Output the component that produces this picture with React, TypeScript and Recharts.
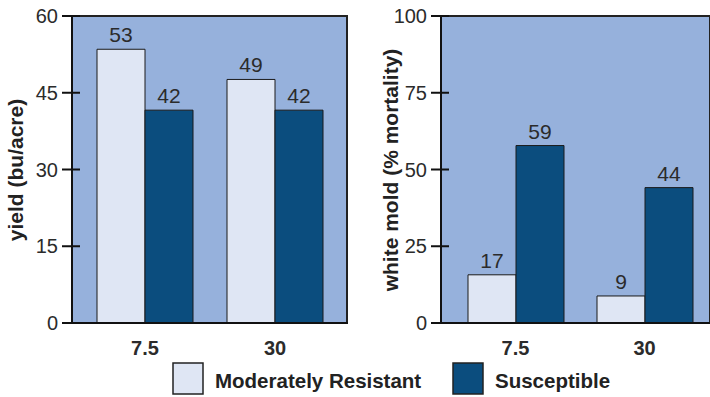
import { Bar, BarChart, CartesianGrid, LabelList, XAxis, YAxis } from "recharts";

const categories = ["7.5", "30"];

// left panel: yield
const yieldResistant = [53.5, 47.6];
const yieldSusceptible = [41.6, 41.6];
const yieldResistantLabels = [53, 49];
const yieldSusceptibleLabels = [42, 42];
const yieldTicks = [0, 15, 30, 45, 60];

// right panel: white mold
const moldResistant = [15.7, 8.8];
const moldSusceptible = [57.8, 44.1];
const moldResistantLabels = [17, 9];
const moldSusceptibleLabels = [59, 44];
const moldTicks = [0, 25, 50, 75, 100];

const FONT = "'Liberation Sans', Arial, sans-serif";
const BG = "#96b1dc";
const LIGHT = "#dfe6f4";
const DARK = "#0b4d7e";
const TEXT = "#2b2b2b";

function YTick(props: any) {
  const { x, y, payload } = props;
  return (
    <g>
      <line x1={x - 10} x2={x + 8} y1={y} y2={y} stroke="#111" strokeWidth={2} />
      <text x={x - 14} y={y} textAnchor="end" dominantBaseline="central" fontSize={20} fill={TEXT} fontFamily={FONT}>
        {payload.value}
      </text>
    </g>
  );
}

function XTick(props: any) {
  const { x, y, payload } = props;
  return (
    <text x={x} y={y + 25} textAnchor="middle" dominantBaseline="central" fontSize={20} fontWeight="bold" fill={TEXT} fontFamily={FONT}>
      {payload.value}
    </text>
  );
}

type PanelProps = {
  width: number;
  yWidth: number;
  title: string;
  titleX: number;
  ticks: number[];
  resistant: number[];
  susceptible: number[];
  resistantLabels: number[];
  susceptibleLabels: number[];
  padding: { left: number; right: number };
};

function Panel(p: PanelProps) {
  const data = categories.map((c, i) => ({
    cat: c,
    r: p.resistant[i],
    s: p.susceptible[i],
    rl: p.resistantLabels[i],
    sl: p.susceptibleLabels[i],
  }));
  const max = p.ticks[p.ticks.length - 1];
  return (
    <BarChart width={p.width} height={397} data={data} margin={{ top: 16, right: 0, left: 0, bottom: 37 }} barGap={0} barSize={48}>
      {/* background plus top / right frame lines */}
      <CartesianGrid
        fill={BG}
        stroke="#222"
        strokeWidth={2}
        horizontalCoordinatesGenerator={({ offset }: any) => [offset.top]}
        verticalCoordinatesGenerator={({ offset }: any) => [offset.left + offset.width - 1]}
      />
      <XAxis
        dataKey="cat"
        tick={<XTick />}
        tickLine={false}
        tickSize={0}
        tickMargin={0}
        height={37}
        padding={p.padding}
        axisLine={{ stroke: "#111", strokeWidth: 2 }}
      />
      <YAxis
        domain={[0, max]}
        ticks={p.ticks}
        tick={<YTick />}
        tickLine={false}
        tickSize={0}
        tickMargin={0}
        width={p.yWidth}
        axisLine={{ stroke: "#111", strokeWidth: 2 }}
        label={(lp: any) => {
          const vb = lp.viewBox || {};
          const cx = (vb.x ?? 0) + p.titleX;
          const cy = 170;
          return (
            <text
              x={cx}
              y={cy}
              transform={`rotate(-90 ${cx} ${cy})`}
              textAnchor="middle"
              dominantBaseline="central"
              fontSize={21}
              fontWeight="bold"
              fill="#222"
              fontFamily={FONT}
            >
              {p.title}
            </text>
          );
        }}
      />
      <Bar dataKey="r" fill={LIGHT} stroke="#1a1a1a" strokeWidth={1} isAnimationActive={false}>
        <LabelList dataKey="rl" position="top" offset={7} fill={TEXT} fontSize={21} fontFamily={FONT} />
      </Bar>
      <Bar dataKey="s" fill={DARK} stroke="#1a1a1a" strokeWidth={1} isAnimationActive={false}>
        <LabelList dataKey="sl" position="top" offset={7} fill={TEXT} fontSize={21} fontFamily={FONT} />
      </Bar>
    </BarChart>
  );
}

function Legend() {
  const item = (fill: string, label: string, boxX: number, textX: number) => (
    <g>
      <rect x={boxX} y={363} width={30} height={31} fill={fill} stroke="#222" strokeWidth={1.5} />
      <text x={textX} y={380} dominantBaseline="central" fontSize={20.5} fontWeight="bold" fill="#222" fontFamily={FONT}>
        {label}
      </text>
    </g>
  );
  return (
    <svg width={710} height={397} style={{ position: "absolute", left: 0, top: 0, pointerEvents: "none" }}>
      {item(LIGHT, "Moderately Resistant", 173, 215)}
      {item(DARK, "Susceptible", 453, 495)}
    </svg>
  );
}

export default function App() {
  return (
    <div style={{ position: "absolute", left: 0, top: 0, width: 710, height: 397, background: "#fff", fontFamily: FONT }}>
      <div style={{ position: "absolute", left: 0, top: 0 }}>
        <Panel
          width={348}
          yWidth={72}
          title="yield (bu/acre)"
          titleX={15}
          ticks={yieldTicks}
          resistant={yieldResistant}
          susceptible={yieldSusceptible}
          resistantLabels={yieldResistantLabels}
          susceptibleLabels={yieldSusceptibleLabels}
          padding={{ left: 8, right: 8 }}
        />
      </div>
      <div style={{ position: "absolute", left: 360, top: 0 }}>
        <Panel
          width={351}
          yWidth={81}
          title="white mold (% mortality)"
          titleX={30}
          ticks={moldTicks}
          resistant={moldResistant}
          susceptible={moldSusceptible}
          resistantLabels={moldResistantLabels}
          susceptibleLabels={moldSusceptibleLabels}
          padding={{ left: 10, right: 2 }}
        />
      </div>
      <Legend />
    </div>
  );
}
